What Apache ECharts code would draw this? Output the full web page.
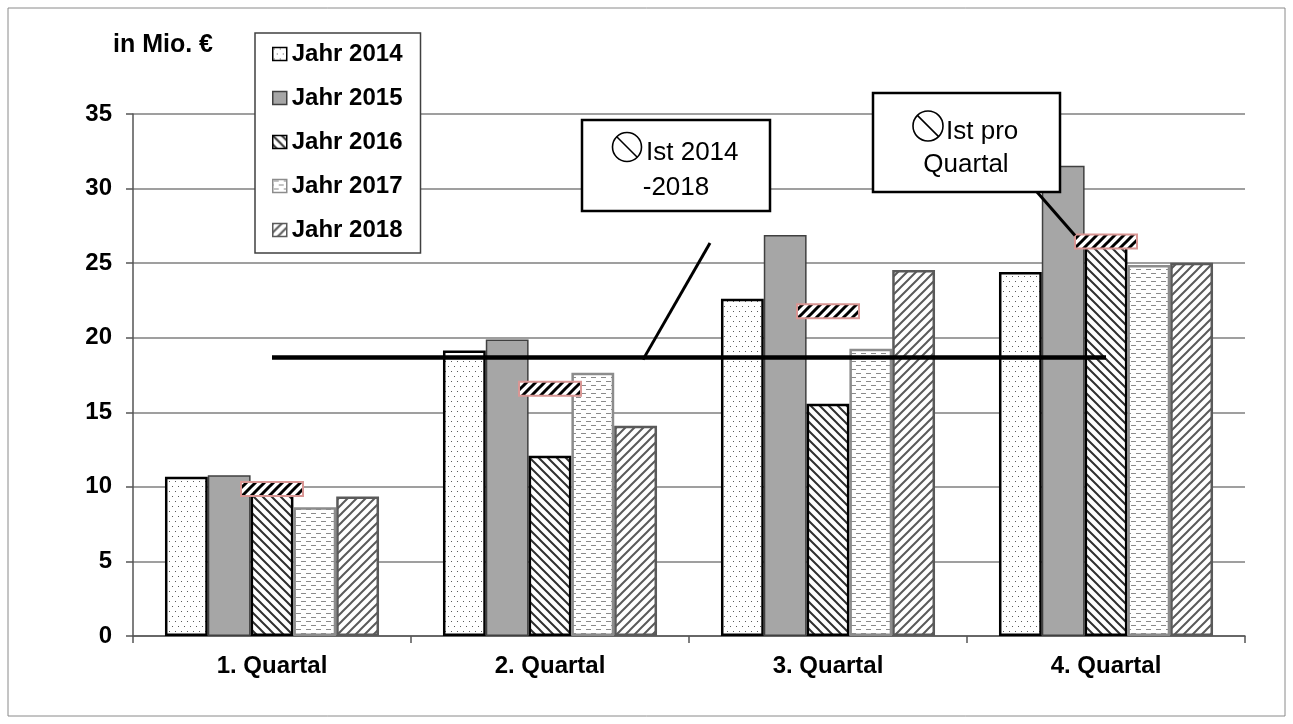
<!DOCTYPE html>
<html>
<head>
<meta charset="utf-8">
<script src="https://cdn.jsdelivr.net/npm/echarts@6/dist/echarts.min.js"></script>
<style>
html,body{margin:0;padding:0;background:#fff;}
#chart{width:1293px;height:724px;}
</style>
</head>
<body>
<div id="chart"></div>
<script>
// ---- data ----
const categories = ['1. Quartal', '2. Quartal', '3. Quartal', '4. Quartal'];
const years = ['Jahr 2014', 'Jahr 2015', 'Jahr 2016', 'Jahr 2017', 'Jahr 2018'];
const v2014 = [10.68, 19.15, 22.62, 24.41];
const v2015 = [10.77, 19.88, 26.89, 31.53];
const v2016 = [9.85, 12.09, 15.57, 26.40];
const v2017 = [8.64, 17.65, 19.26, 24.88];
const v2018 = [9.36, 14.10, 24.54, 25.03];
const yTicks = { min: 0, max: 35, interval: 5 };
const unitLabel = 'in Mio. €';
const note1 = ['Ist 2014', '-2018'];
const note2 = ['Ist pro', 'Quartal'];

const allSeries = [v2014, v2015, v2016, v2017, v2018];
const quarterAvg = categories.map((c, i) => allSeries.reduce((s, a) => s + a[i], 0) / allSeries.length);
const overallAvg = quarterAvg.reduce((s, v) => s + v, 0) / quarterAvg.length;
const overallLine = categories.map(() => overallAvg);

// ---- patterns ----
function mkCanvas(w, h, draw) {
  const c = document.createElement('canvas');
  c.width = w; c.height = h;
  const g = c.getContext('2d');
  g.fillStyle = '#fff'; g.fillRect(0, 0, w, h);
  draw(g, w, h);
  return c;
}
function mk(w, h, draw) { return { image: mkCanvas(w, h, draw), repeat: 'repeat' }; }
function diagDraw(color, lw, forward) {
  return (g, s) => {
    g.strokeStyle = color; g.lineWidth = lw; g.lineCap = 'square';
    g.beginPath();
    if (forward) { // "/"
      g.moveTo(-s, s); g.lineTo(s, -s);
      g.moveTo(0, s); g.lineTo(s, 0);
      g.moveTo(0, 2 * s); g.lineTo(2 * s, 0);
    } else { // "\"
      g.moveTo(-s, 0); g.lineTo(s, 2 * s);
      g.moveTo(0, 0); g.lineTo(s, s);
      g.moveTo(0, -s); g.lineTo(2 * s, s);
    }
    g.stroke();
  };
}
const pDots = mk(6, 10, (g) => {
  g.fillStyle = '#5a5a5a';
  g.fillRect(1, 1, 1, 1);
  g.fillRect(4, 6, 1, 1);
});
const pDash = mk(10, 8, (g) => {
  g.fillStyle = '#8a8a8a';
  g.fillRect(1, 1, 5, 1);
  g.fillRect(6, 5, 4, 1);
  g.fillRect(0, 5, 1, 1);
});
const pBack = mk(9, 9, diagDraw('#303030', 2, false));
const pFwd = mk(9, 9, diagDraw('#5a5a5a', 2, true));
const markCanvas = mkCanvas(9, 9, diagDraw('#000000', 3, true));

const FONT = "'Liberation Sans', Arial, sans-serif";

const barStyles = [
  { color: pDots, borderColor: '#000000', borderWidth: 2.5 },
  { color: '#a6a6a6', borderColor: '#404040', borderWidth: 1.5 },
  { color: pBack, borderColor: '#000000', borderWidth: 2.5 },
  { color: pDash, borderColor: '#8c8c8c', borderWidth: 2.5 },
  { color: pFwd, borderColor: '#5a5a5a', borderWidth: 2.5 }
];

const chart = echarts.init(document.getElementById('chart'), null, { renderer: 'canvas' });

const series = years.map((name, i) => ({
  name: name,
  type: 'bar',
  data: allSeries[i],
  barGap: '0%',
  barCategoryGap: '23%',
  itemStyle: barStyles[i],
  emphasis: { disabled: true },
  z: 2
}));
series.push({
  name: 'avgAll',
  type: 'line',
  data: overallLine,
  symbol: 'none',
  lineStyle: { color: '#000', width: 4.5 },
  z: 5,
  silent: true
});
series.push({
  name: 'avgQ',
  type: 'custom',
  data: quarterAvg.map((v, i) => [i, v]),
  encode: { x: 0, y: 1 },
  z: 6,
  silent: true,
  renderItem: function (params, api) {
    const p = api.coord([api.value(0), api.value(1)]);
    const w = 62, h = 14;
    return {
      type: 'rect',
      shape: { x: p[0] - w / 2, y: p[1] - h / 2, width: w, height: h },
      style: { fill: { image: markCanvas, repeat: 'repeat' }, stroke: '#d99694', lineWidth: 2 }
    };
  }
});

chart.setOption({
  animation: false,
  backgroundColor: '#fff',
  grid: { left: 133, right: 48, top: 114, bottom: 88 },
  legend: {
    data: years.map(n => ({ name: n, icon: 'rect' })),
    orient: 'vertical',
    left: 255,
    top: 33,
    backgroundColor: '#fff',
    borderColor: '#404040',
    borderWidth: 1.5,
    padding: [9, 18, 11, 17],
    itemGap: 20,
    itemWidth: 14,
    itemHeight: 13,
    itemStyle: { borderWidth: 1.5 },
    textStyle: { fontFamily: FONT, fontSize: 24, fontWeight: 'bold', color: '#000', lineHeight: 24 },
    z: 10
  },
  xAxis: {
    type: 'category',
    data: categories,
    axisLine: { lineStyle: { color: '#555', width: 1.5 } },
    axisTick: { show: true, length: 7, lineStyle: { color: '#555', width: 1.5 } },
    axisLabel: { fontFamily: FONT, fontSize: 24, fontWeight: 'bold', color: '#000', margin: 18 }
  },
  yAxis: {
    type: 'value',
    min: yTicks.min,
    max: yTicks.max,
    interval: yTicks.interval,
    axisLine: { show: true, lineStyle: { color: '#555', width: 1.5 } },
    axisTick: { show: true, length: 7, lineStyle: { color: '#555', width: 1.5 } },
    axisLabel: { fontFamily: FONT, fontSize: 24, fontWeight: 'bold', color: '#000', margin: 21 },
    splitLine: { lineStyle: { color: '#7f7f7f', width: 1.5 } }
  },
  series: series
});

// ---- annotations ----
const yAvgPx = chart.convertToPixel({ yAxisIndex: 0 }, overallAvg);
const q4x = chart.convertToPixel({ xAxisIndex: 0 }, 3);
const q4y = chart.convertToPixel({ yAxisIndex: 0 }, quarterAvg[3]);

function noSign(cx, cy, r) {
  const d = r * 0.707;
  return [
    { type: 'circle', shape: { cx: cx, cy: cy, r: r }, style: { fill: 'none', stroke: '#000', lineWidth: 1.6 }, z: 20 },
    { type: 'line', shape: { x1: cx - d, y1: cy - d, x2: cx + d, y2: cy + d }, style: { stroke: '#000', lineWidth: 1.6 }, z: 20 }
  ];
}
const txt = (x, y, text, align) => ({
  type: 'text', x: x, y: y, z: 20,
  style: { text: text, fill: '#000', font: "26px 'Liberation Sans', Arial, sans-serif", textAlign: align, textVerticalAlign: 'middle' }
});

const graphic = [
  { type: 'rect', shape: { x: 8, y: 8, width: 1277, height: 708 }, style: { fill: 'none', stroke: '#8a8a8a', lineWidth: 1 }, z: 0, silent: true },
  { type: 'text', x: 113, y: 45, z: 20, style: { text: unitLabel, fill: '#000', font: "bold 25px 'Liberation Sans', Arial, sans-serif", textVerticalAlign: 'middle' } },
  // leader lines
  { type: 'line', shape: { x1: 710, y1: 243, x2: 643, y2: yAvgPx + 2 }, style: { stroke: '#000', lineWidth: 3 }, z: 15 },
  { type: 'line', shape: { x1: 1037, y1: 192, x2: q4x - 31, y2: q4y - 6 }, style: { stroke: '#000', lineWidth: 3 }, z: 15 },
  // box 1
  { type: 'rect', shape: { x: 582, y: 120, width: 188, height: 91 }, style: { fill: '#fff', stroke: '#000', lineWidth: 2.5 }, z: 19 },
  ...noSign(627, 147, 14.5),
  txt(646, 153, note1[0], 'left'),
  txt(676, 188, note1[1], 'center'),
  // box 2
  { type: 'rect', shape: { x: 873, y: 93, width: 187, height: 99 }, style: { fill: '#fff', stroke: '#000', lineWidth: 2.5 }, z: 19 },
  ...noSign(928, 126, 15),
  txt(946, 132, note2[0], 'left'),
  txt(966, 165, note2[1], 'center')
];
chart.setOption({ graphic: graphic });
</script>
</body>
</html>
